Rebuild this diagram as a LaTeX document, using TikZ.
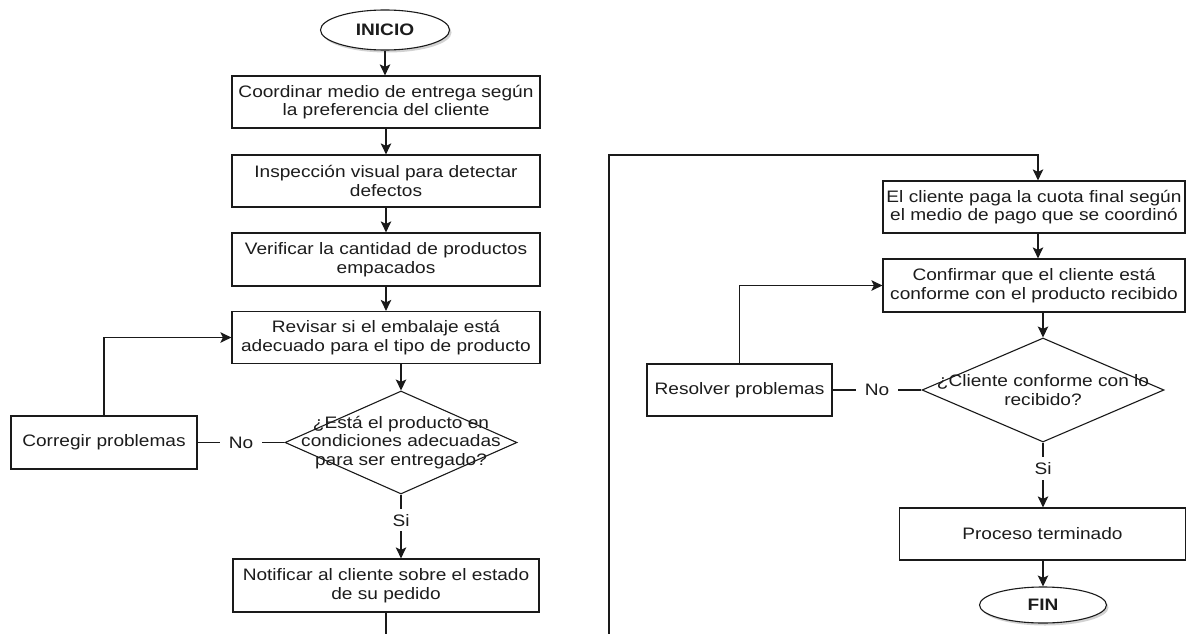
\documentclass[tikz,border=0pt]{standalone}
\usepackage{fontspec}
\setmainfont[FakeStretch=1.15]{Liberation Sans}
\usetikzlibrary{shapes.geometric,arrows.meta,shadows}
\definecolor{ink}{HTML}{1A1A1A}
\definecolor{txt}{HTML}{1C1C1C}
\begin{document}
\begin{tikzpicture}[x=1pt,y=-1pt,
  every node/.style={font=\fontsize{16.6}{18.5}\selectfont, text=txt},
  stepbox/.style={draw=ink, line width=1.2pt, rectangle, inner sep=0pt, align=center},
  terminal/.style={draw=ink, line width=1.1pt, ellipse, fill=white, inner sep=0pt,
    minimum width=129pt, minimum height=40pt,
    font=\fontsize{16.6}{18.5}\selectfont\bfseries,
    drop shadow={shadow xshift=2pt, shadow yshift=-2.5pt, opacity=0.35, fill=gray}},
  decision/.style={draw=ink, line width=1.1pt, diamond, inner sep=0pt},
  qtext/.style={align=center, inner sep=0pt},
  conn/.style={draw=ink, line width=1.2pt},
  arr/.style={conn, -{Stealth[length=11pt, width=10.5pt, inset=2.5pt]}},
  lbl/.style={fill=white, inner xsep=9pt, inner ysep=5pt}]
\useasboundingbox[fill=white] (0,0) rectangle (1186,634);

% ---------- left column ----------
\node[terminal] (ini) at (385,30) {INICIO};
\node[stepbox, minimum width=308pt, minimum height=52pt] (b1) at (386,102)
  {Coordinar medio de entrega según\\la preferencia del cliente};
\node[stepbox, minimum width=308pt, minimum height=52pt] (b2) at (386,181)
  {Inspección visual para detectar\\defectos};
\node[stepbox, minimum width=308pt, minimum height=53pt] (b3) at (386,259.5)
  {Verificar la cantidad de productos\\empacados};
\node[stepbox, minimum width=308pt, minimum height=52pt] (b4) at (386,337.5)
  {Revisar si el embalaje está\\adecuado para el tipo de producto};
\node[decision, minimum width=232pt, minimum height=103pt] (d1) at (401,442.5) {};
\node[qtext] (d1t) at (d1.center)
  {¿Está el producto en\\condiciones adecuadas\\para ser entregado?};
\node[stepbox, minimum width=186pt, minimum height=53pt] (c1) at (104,442.5)
  {Corregir problemas};
\node[stepbox, minimum width=306pt, minimum height=53pt] (b5) at (386,585.5)
  {Notificar al cliente sobre el estado\\de su pedido};
\coordinate (b5out) at (386,634);

\draw[arr] (ini.south) -- (ini.south |- b1.north);
\draw[arr] (b1.south) -- (b2.north);
\draw[arr] (b2.south) -- (b3.north);
\draw[arr] (b3.south) -- (b4.north);
\draw[arr] (d1.north |- b4.south) -- (d1.north);
\draw[conn] (d1.west) -- node[lbl]{No} (c1.east);
\draw[arr] (c1.north) |- (b4.west);
\draw[arr] (d1.south) -- node[lbl, pos=0.4]{Si} (d1.south |- b5.north);
\draw[conn] (b5.south) -- (b5out);

% ---------- right column ----------
\coordinate (ls) at (609,634);
\coordinate (lt) at (1038,155);
\node[stepbox, minimum width=302pt, minimum height=52pt] (r1) at (1034,207)
  {El cliente paga la cuota final según\\el medio de pago que se coordinó};
\node[stepbox, minimum width=302pt, minimum height=53pt] (r2) at (1034,285.5)
  {Confirmar que el cliente está\\conforme con el producto recibido};
\node[decision, minimum width=242pt, minimum height=104pt] (d2) at (1043,390) {};
\node[qtext] (d2t) at (d2.center) {¿Cliente conforme con lo\\recibido?};
\node[stepbox, minimum width=185pt, minimum height=52pt] (res) at (739.5,390)
  {Resolver problemas};
\node[stepbox, minimum width=286pt, minimum height=52pt] (pt) at (1042.5,534)
  {Proceso terminado};
\node[terminal, minimum width=127pt, minimum height=36pt] (fin) at (1043,605) {FIN};

\draw[arr] (ls) |- (lt) -- (lt |- r1.north);
\draw[arr] (lt |- r1.south) -- (lt |- r2.north);
\draw[arr] (d2.north |- r2.south) -- (d2.north);
\draw[conn] (d2.west) -- node[lbl]{No} (res.east);
\draw[arr] (res.north) |- (r2.west);
\draw[arr] (d2.south) -- node[lbl, pos=0.4]{Si} (d2.south |- pt.north);
\draw[arr] (fin.north |- pt.south) -- (fin.north);
\end{tikzpicture}
\end{document}
